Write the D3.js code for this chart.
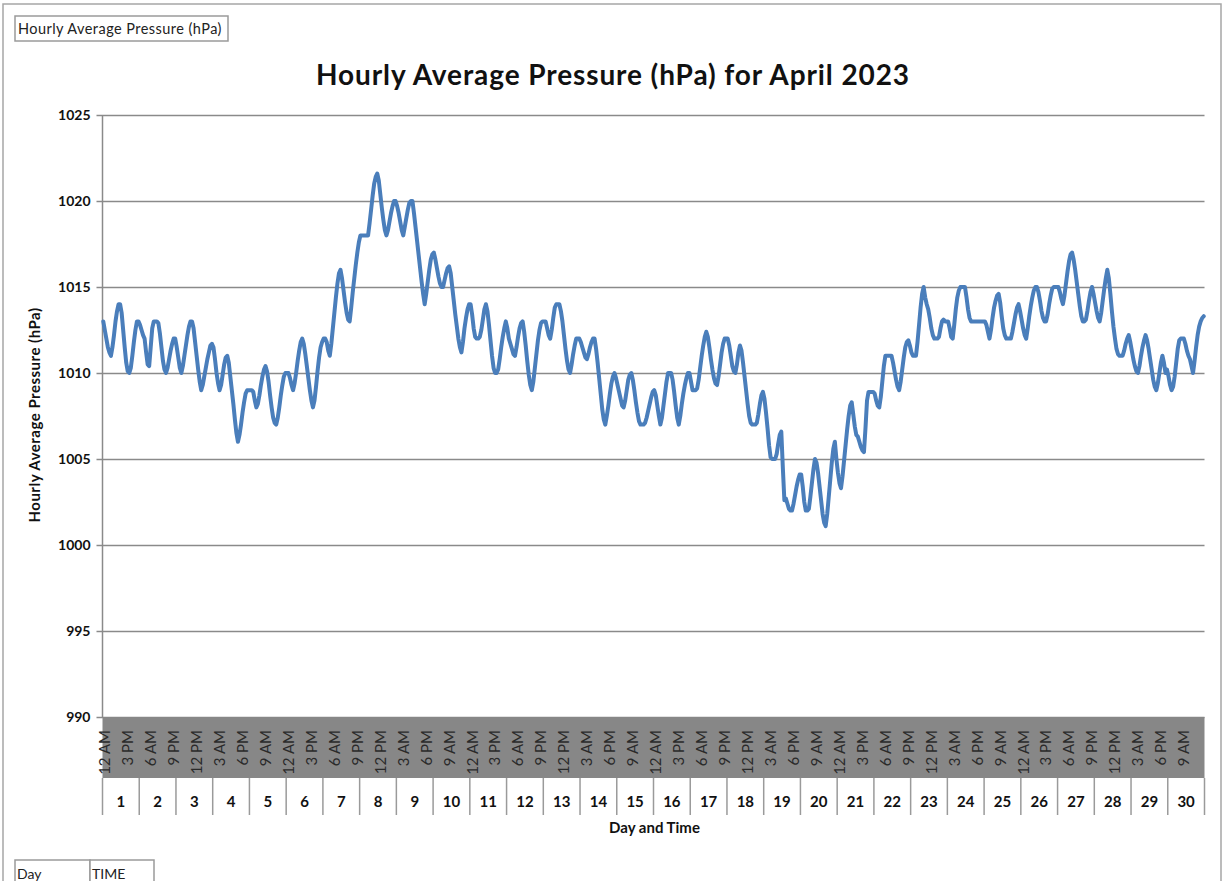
<!DOCTYPE html>
<html>
<head>
<meta charset="utf-8">
<script src="https://cdn.jsdelivr.net/npm/d3@7"></script>
<style>
  body { margin: 0; background: #fff; }
  text { font-family: Lato, "Open Sans", sans-serif; }
</style>
</head>
<body>
<div id="chart-area"></div>
<script>
// Hourly average pressure (hPa), April 2023
var week1 = [ // days 1-7
  1013,1012.5,1012,1011.5,1011.2,1011,1011.5,1012.2,1013,1013.6,1014,1014,1013.5,1012.5,1011.5,1010.6,1010.1,1010,1010.3,1011,1011.8,1012.5,1013,1013,
  1012.8,1012.5,1012.2,1012,1011.2,1010.5,1010.4,1011.5,1012.6,1013,1013,1013,1012.9,1012.3,1011.5,1010.7,1010.2,1010,1010.3,1010.8,1011.3,1011.7,1012,1012,
  1011.5,1010.9,1010.3,1010,1010.4,1011,1011.6,1012.2,1012.7,1013,1013,1012.6,1011.8,1011,1010.2,1009.5,1009,1009.3,1009.8,1010.3,1010.8,1011.2,1011.6,1011.7,
  1011.5,1010.8,1010,1009.4,1009,1009.3,1009.9,1010.5,1010.9,1011,1010.6,1009.8,1009,1008.2,1007.3,1006.5,1006,1006.4,1007,1007.7,1008.3,1008.8,1009,1009,
  1009,1009,1008.9,1008.4,1008,1008.2,1008.7,1009.3,1009.8,1010.2,1010.4,1010.1,1009.5,1008.7,1008,1007.4,1007.1,1007,1007.4,1008,1008.7,1009.3,1009.8,1010,
  1010,1010,1009.7,1009.3,1009,1009.4,1010,1010.7,1011.3,1011.8,1012,1011.7,1011.1,1010.4,1009.7,1009,1008.4,1008,1008.4,1009.2,1010.1,1010.9,1011.5,1011.8,
  1012,1012,1011.8,1011.3,1011,1011.7,1012.6,1013.5,1014.4,1015.2,1015.8,1016,1015.5,1014.8,1014.1,1013.5,1013.1,1013,1013.8,1014.7,1015.5,1016.3,1017,1017.6
];
var week2 = [ // days 8-14
  1018,1018,1018,1018,1018,1018,1018.7,1019.5,1020.3,1021,1021.4,1021.6,1021.2,1020.4,1019.6,1018.9,1018.3,1018,1018.3,1018.8,1019.3,1019.7,1020,1020,
  1019.7,1019.3,1018.8,1018.3,1018,1018.5,1019,1019.5,1019.9,1020,1020,1019.3,1018.5,1017.7,1016.9,1016.1,1015.3,1014.6,1014,1014.6,1015.3,1016,1016.6,1016.9,
  1017,1016.6,1016.1,1015.6,1015.2,1015,1015,1015.4,1015.8,1016.1,1016.2,1015.8,1015,1014.2,1013.4,1012.7,1012,1011.5,1011.2,1011.8,1012.6,1013.2,1013.7,1014,
  1014,1013.4,1012.6,1012.1,1012,1012,1012.1,1012.5,1013.1,1013.7,1014,1013.6,1012.8,1011.9,1011,1010.3,1010,1010,1010.2,1010.8,1011.5,1012.1,1012.6,1013,
  1012.6,1012,1011.7,1011.4,1011.1,1011,1011.5,1012.1,1012.6,1012.9,1013,1012.4,1011.6,1010.7,1009.9,1009.3,1009,1009.5,1010.3,1011.1,1011.9,1012.5,1012.9,1013,
  1013,1013,1012.6,1012.2,1012,1012.5,1013.2,1013.8,1014,1014,1014,1013.6,1013,1012.2,1011.4,1010.7,1010.2,1010,1010.5,1011.1,1011.6,1012,1012,1012,
  1011.8,1011.5,1011.2,1010.9,1010.8,1011.1,1011.5,1011.8,1012,1012,1011.4,1010.6,1009.7,1008.8,1007.9,1007.3,1007,1007.5,1008.1,1008.8,1009.4,1009.8,1010,1009.7
];
var week3 = [ // days 15-21
  1009.3,1008.9,1008.5,1008.1,1008,1008.4,1009,1009.6,1009.9,1010,1009.6,1009,1008.3,1007.7,1007.2,1007,1007,1007,1007.1,1007.4,1007.8,1008.2,1008.6,1008.9,
  1009,1008.7,1008.1,1007.5,1007,1007.4,1008.1,1008.8,1009.5,1010,1010,1010,1009.6,1008.9,1008.1,1007.4,1007,1007.5,1008.2,1008.8,1009.3,1009.7,1010,1010,
  1009.5,1009,1009,1009,1009.1,1009.6,1010.3,1011,1011.6,1012.1,1012.4,1012.1,1011.5,1010.8,1010.2,1009.7,1009.4,1009.3,1009.8,1010.5,1011.2,1011.7,1012,1012,
  1012,1011.6,1011,1010.4,1010.1,1010,1010.5,1011.2,1011.6,1011.3,1010.6,1009.8,1009,1008.2,1007.5,1007.1,1007,1007,1007,1007.1,1007.6,1008.2,1008.7,1008.9,
  1008.5,1007.7,1006.8,1005.8,1005.1,1005,1005,1005,1005.3,1005.9,1006.4,1006.6,1004.5,1002.6,1002.7,1002.4,1002.1,1002,1002,1002.4,1002.9,1003.4,1003.8,1004.1,
  1004.1,1003.4,1002.5,1002,1002,1002.1,1002.8,1003.6,1004.4,1005,1004.8,1004.2,1003.4,1002.6,1001.8,1001.3,1001.1,1001.8,1002.8,1003.8,1004.8,1005.6,1006,1005,
  1004.2,1003.6,1003.3,1004,1004.9,1005.8,1006.7,1007.5,1008.1,1008.3,1007.6,1006.9,1006.4,1006.3,1006,1005.7,1005.5,1005.4,1006.8,1008.4,1008.9,1008.9,1008.9,1008.9
];
var week4 = [ // days 22-28
  1008.8,1008.4,1008.1,1008,1008.6,1009.5,1010.4,1011,1011,1011,1011,1011,1010.6,1010.1,1009.6,1009.2,1009,1009.5,1010.2,1010.9,1011.5,1011.8,1011.9,1011.6,
  1011.2,1011,1011,1011,1011.8,1012.8,1013.8,1014.6,1015,1014.4,1014,1013.7,1013.2,1012.6,1012.2,1012,1012,1012,1012.1,1012.6,1013,1013.1,1013,1013,
  1013,1012.6,1012.1,1012,1012.8,1013.7,1014.4,1014.8,1015,1015,1015,1015,1014.4,1013.7,1013.2,1013,1013,1013,1013,1013,1013,1013,1013,1013,
  1013,1012.8,1012.4,1012,1012.5,1013.2,1013.8,1014.2,1014.5,1014.6,1014.1,1013.3,1012.6,1012.2,1012,1012,1012,1012,1012.4,1012.9,1013.4,1013.8,1014,1013.6,
  1013.1,1012.6,1012.2,1012,1012.6,1013.3,1013.9,1014.4,1014.8,1015,1015,1014.7,1014.2,1013.6,1013.2,1013,1013,1013.4,1014,1014.5,1014.9,1015,1015,1015,
  1015,1014.7,1014.3,1014,1014.5,1015.2,1015.9,1016.5,1016.9,1017,1016.6,1016,1015.3,1014.6,1013.9,1013.3,1013,1013,1013.1,1013.6,1014.2,1014.7,1015,1014.6,
  1014.1,1013.6,1013.2,1013,1013.5,1014.2,1014.9,1015.5,1016,1015.5,1014.6,1013.6,1012.7,1012,1011.4,1011.1,1011,1011,1011,1011.3,1011.7,1012,1012.2,1011.8
];
var week5 = [ // days 29-30
  1011.3,1010.8,1010.4,1010.1,1010,1010.4,1011,1011.5,1011.9,1012.2,1011.9,1011.4,1010.8,1010.2,1009.6,1009.2,1009,1009.4,1010,1010.6,1011,1010.6,1010,1010.2,
  1009.8,1009.3,1009,1009.2,1009.8,1010.6,1011.4,1011.9,1012,1012,1012,1011.7,1011.3,1011,1010.8,1010.4,1010,1010.7,1011.5,1012.2,1012.7,1013,1013.2,1013.3
];
var days = d3.range(1, 31);
var hourNames = ["12 AM","1 AM","2 AM","3 AM","4 AM","5 AM","6 AM","7 AM","8 AM","9 AM","10 AM","11 AM",
                 "12 PM","1 PM","2 PM","3 PM","4 PM","5 PM","6 PM","7 PM","8 PM","9 PM","10 PM","11 PM"];
var yTicks = [990, 995, 1000, 1005, 1010, 1015, 1020, 1025];

var pressure = week1.concat(week2, week3, week4, week5);

var width = 1223, height = 881;
var margin = { left: 102.5, right: 18.5, top: 115, bottom: 164 };
var plotW = width - margin.left - margin.right;
var plotH = height - margin.top - margin.bottom;
var bandH = 61, dayH = 37;

var svg = d3.select("#chart-area")
  .append("svg")
    .attr("width", width)
    .attr("height", height);

// chart frame
svg.append("rect")
  .attr("x", 3).attr("y", 4)
  .attr("width", 1218).attr("height", 900)
  .attr("fill", "none")
  .attr("stroke", "#a6a6a6")
  .attr("stroke-width", 1.5);

// field button top left
svg.append("rect")
  .attr("x", 15).attr("y", 16).attr("width", 213).attr("height", 25)
  .attr("fill", "#fff").attr("stroke", "#9a9a9a").attr("stroke-width", 1.5);
svg.append("text")
  .attr("x", 18).attr("y", 34)
  .attr("font-size", "14.5px")
  .attr("letter-spacing", "0.45px")
  .attr("fill", "#222")
  .text("Hourly Average Pressure (hPa)");

// field buttons bottom left
svg.append("rect")
  .attr("x", 15).attr("y", 860).attr("width", 75).attr("height", 30)
  .attr("fill", "#fff").attr("stroke", "#9a9a9a").attr("stroke-width", 1.5);
svg.append("rect")
  .attr("x", 90).attr("y", 860).attr("width", 64).attr("height", 30)
  .attr("fill", "#fff").attr("stroke", "#9a9a9a").attr("stroke-width", 1.5);
svg.append("text").attr("x", 17).attr("y", 879).attr("font-size", "14px").attr("fill", "#222").text("Day");
svg.append("text").attr("x", 92).attr("y", 879).attr("font-size", "14px").attr("fill", "#222").text("TIME");

// title
svg.append("text")
  .attr("x", 613).attr("y", 85)
  .attr("text-anchor", "middle")
  .attr("font-size", "28px")
  .attr("font-weight", "bold")
  .attr("letter-spacing", "0.9px")
  .attr("fill", "#111")
  .text("Hourly Average Pressure (hPa) for April 2023");

var g = svg.append("g")
  .attr("transform", "translate(" + margin.left + "," + margin.top + ")");

// Scales
var x = d3.scaleBand()
  .domain(d3.range(pressure.length))
  .range([0, plotW]);
var xDay = d3.scaleBand()
  .domain(days)
  .range([0, plotW]);
var y = d3.scaleLinear()
  .domain([990, 1025])
  .range([plotH, 0]);

// gridlines + y axis
var yAxis = d3.axisLeft(y)
  .tickValues(yTicks)
  .tickSize(-plotW)
  .tickPadding(12)
  .tickFormat(d3.format("d"));
var yAxisGroup = g.append("g").attr("class", "y-axis").call(yAxis);
yAxisGroup.select(".domain").remove();
yAxisGroup.selectAll(".tick line")
  .attr("x1", -6)
  .attr("stroke", "#8a8a8a")
  .attr("stroke-width", 1.5);
yAxisGroup.selectAll(".tick text")
  .attr("font-size", "14px")
  .attr("font-weight", "bold")
  .attr("fill", "#111")
  .style("font-family", "Lato, sans-serif");
g.append("line")
  .attr("x1", 0).attr("x2", 0)
  .attr("y1", 0).attr("y2", plotH)
  .attr("stroke", "#8a8a8a").attr("stroke-width", 1.5);

// x axis: time band
var xg = g.append("g").attr("transform", "translate(0," + plotH + ")");
xg.append("rect")
  .attr("x", 0).attr("y", 0)
  .attr("width", plotW).attr("height", bandH)
  .attr("fill", "#878787");
xg.selectAll(".hour-label")
  .data(d3.range(0, pressure.length, 15))
  .enter().append("text")
    .attr("class", "hour-label")
    .attr("transform", function(i) {
      return "translate(" + (x(i) + x.bandwidth() / 2 + 1.5) + ",13) rotate(-90)";
    })
    .attr("text-anchor", "end")
    .attr("dy", "0.36em")
    .attr("font-size", "15px")
    .attr("fill", "#2a2a2a")
    .text(function(i) { return hourNames[i % 24]; });

// day row
xg.selectAll(".day-sep")
  .data(days.concat([31]))
  .enter().append("line")
    .attr("class", "day-sep")
    .attr("x1", function(d) { return d <= 30 ? xDay(d) : plotW; })
    .attr("x2", function(d) { return d <= 30 ? xDay(d) : plotW; })
    .attr("y1", bandH)
    .attr("y2", bandH + dayH)
    .attr("stroke", "#9a9a9a")
    .attr("stroke-width", 1.5);
xg.selectAll(".day-label")
  .data(days)
  .enter().append("text")
    .attr("class", "day-label")
    .attr("x", function(d) { return xDay(d) + xDay.bandwidth() / 2; })
    .attr("y", bandH + 29)
    .attr("text-anchor", "middle")
    .attr("font-size", "15px")
    .attr("font-weight", "bold")
    .attr("fill", "#111")
    .text(function(d) { return d; });

// axis titles
g.append("text")
  .attr("x", 552).attr("y", plotH + 116)
  .attr("text-anchor", "middle")
  .attr("font-size", "15px")
  .attr("font-weight", "bold")
  .attr("fill", "#111")
  .text("Day and Time");
svg.append("text")
  .attr("transform", "translate(40,415) rotate(-90)")
  .attr("text-anchor", "middle")
  .attr("font-size", "15px")
  .attr("font-weight", "bold")
  .attr("letter-spacing", "0.5px")
  .attr("fill", "#111")
  .text("Hourly Average Pressure (hPa)");

// the line
var line = d3.line()
  .x(function(d, i) { return x(i) + x.bandwidth() / 2; })
  .y(function(d) { return y(d); });
g.append("path")
  .datum(pressure)
  .attr("d", line)
  .attr("fill", "none")
  .attr("stroke", "#4a7ebb")
  .attr("stroke-width", 4)
  .attr("stroke-linejoin", "round")
  .attr("stroke-linecap", "round");
</script>
</body>
</html>
